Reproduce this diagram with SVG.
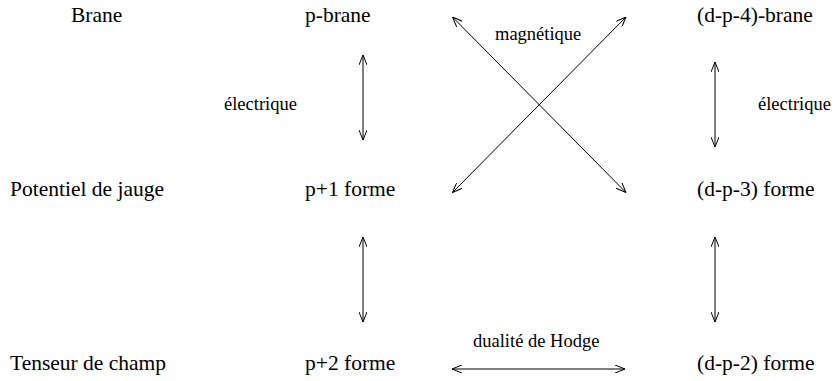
<svg xmlns="http://www.w3.org/2000/svg" width="835" height="381" viewBox="0 0 835 381">
<style>
text{font-family:"Liberation Serif","Times New Roman",serif;fill:#000}
.t{font-size:21.5px}
.l{font-size:18.5px}
.c{stroke:#000;stroke-width:1;fill:none}
</style>
<defs>
<marker id="a" viewBox="0 0 10 8" refX="10" refY="4" markerWidth="10" markerHeight="8" markerUnits="userSpaceOnUse" orient="auto-start-reverse">
<path d="M0,0 L10,4 L0,8" fill="none" stroke="#000" stroke-width="1"/>
</marker>
</defs>
<rect width="835" height="381" fill="#fff"/>
<g id="labels">
<text class="t" x="71" y="22">Brane</text>
<text class="t" x="10" y="196">Potentiel de jauge</text>
<text class="t" x="10" y="370">Tenseur de champ</text>
</g>
<g id="n-pbrane"><text class="t" x="305" y="22">p-brane</text></g>
<g id="n-dp4brane"><text class="t" x="697" y="22">(d-p-4)-brane</text></g>
<g id="n-p1forme"><text class="t" x="305" y="196">p+1 forme</text></g>
<g id="n-dp3forme"><text class="t" x="697" y="196">(d-p-3) forme</text></g>
<g id="n-p2forme"><text class="t" x="305" y="370">p+2 forme</text></g>
<g id="n-dp2forme"><text class="t" x="697" y="370">(d-p-2) forme</text></g>
<g id="connectors">
<line class="c" x1="363" y1="55" x2="363" y2="140" marker-start="url(#a)" marker-end="url(#a)"/>
<line class="c" x1="715" y1="62" x2="715" y2="147" marker-start="url(#a)" marker-end="url(#a)"/>
<line class="c" x1="363" y1="237" x2="363" y2="322" marker-start="url(#a)" marker-end="url(#a)"/>
<line class="c" x1="715" y1="237" x2="715" y2="322" marker-start="url(#a)" marker-end="url(#a)"/>
<line class="c" x1="452.5" y1="17" x2="626" y2="192.5" marker-start="url(#a)" marker-end="url(#a)"/>
<line class="c" x1="626" y1="17" x2="452.5" y2="192.5" marker-start="url(#a)" marker-end="url(#a)"/>
<line class="c" x1="452" y1="369" x2="625" y2="369" marker-start="url(#a)" marker-end="url(#a)"/>
<text class="l" x="495" y="40">magnétique</text>
<text class="l" x="224" y="110">électrique</text>
<text class="l" x="758" y="110">électrique</text>
<text class="l" x="473" y="347">dualité de Hodge</text>
</g>
</svg>
